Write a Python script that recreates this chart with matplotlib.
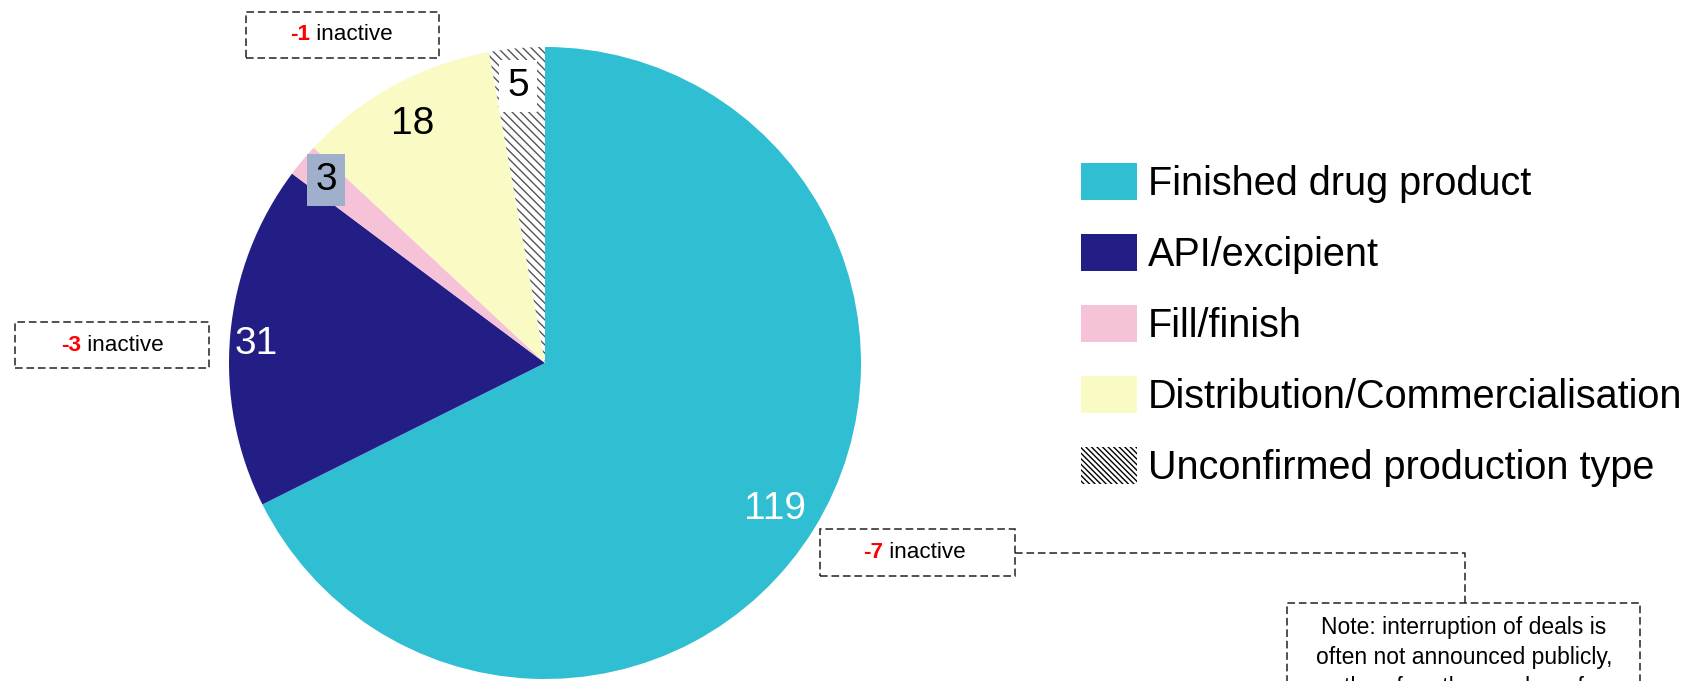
import matplotlib
matplotlib.use('Agg')
import matplotlib.pyplot as plt
from matplotlib.patches import Rectangle, Patch
from matplotlib.lines import Line2D
from matplotlib.text import Annotation

categories = ['Finished drug product', 'API/excipient', 'Fill/finish',
              'Distribution/Commercialisation', 'Unconfirmed production type']
values = [119, 31, 3, 18, 5]
colors = ['#2FBED2', '#221E86', '#F6C2D8', '#FAFAC5', '#FFFFFF']
inactive = ['-1', '-3', '-7']
note_lines = ['Note: interruption of deals is',
              'often not announced publicly,',
              'therefore the number of']

plt.rcParams['font.family'] = ['Liberation Sans', 'DejaVu Sans']
plt.rcParams['hatch.linewidth'] = 1.0

W, H = 1694, 681
fig = plt.figure(figsize=(W / 100, H / 100), dpi=100)

CX, CY, R = 545, 363, 316


def fx(x):
    return x / W


def fy(y):
    return 1 - y / H


ax = fig.add_axes([fx(CX - R), (H - CY - R) / H, 2 * R / W, 2 * R / H])
wedges, _ = ax.pie(values, colors=colors, startangle=90, counterclock=False,
                   radius=1, wedgeprops=dict(linewidth=0))
wedges[4].set_hatch('\\\\\\\\')
wedges[4].set_edgecolor('#555555')
wedges[4].set_linewidth(0)
ax.set_xlim(-1, 1)
ax.set_ylim(-1, 1)
ax.set_aspect('equal')
ax.axis('off')


def d(xp, yp):
    return ((xp - CX) / R, (CY - yp) / R)


# value labels
lab_pos = [(775, 509), (256, 344), (326, 180), (413, 124), (518, 86)]
lab_col = ['white', 'white', 'black', 'black', 'black']
for i, (v, p, c) in enumerate(zip(values, lab_pos, lab_col)):
    kw = {}
    if i == 2:
        kw['bbox'] = dict(boxstyle='square,pad=0.2', fc='#A0B0CC', ec='none')
    if i == 4:
        kw['bbox'] = dict(boxstyle='square,pad=0.2', fc='white', ec='none')
    ax.text(*d(*p), str(v), color=c, fontsize=28, ha='center', va='center', **kw)

# legend
handles = [Patch(facecolor=c, edgecolor='none', linewidth=0) for c in colors[:4]]
handles.append(Patch(facecolor='white', edgecolor='black', hatch='\\\\\\\\\\\\', linewidth=0))
fig.legend(handles=handles, labels=categories, loc='upper left',
           bbox_to_anchor=(fx(1081), fy(163)), frameon=False, fontsize=28.5,
           handlelength=1.41, handleheight=1.06, handletextpad=0.28,
           labelspacing=0.785, borderpad=0, borderaxespad=0)

DASH = (0, (5, 2.5))


def inactive_box(x0, y0, x1, y1, num, tx):
    fig.add_artist(Rectangle((fx(x0), fy(y1)), (x1 - x0) / W, (y1 - y0) / H,
                             transform=fig.transFigure, fill=False,
                             ec='#222222', lw=1.1, ls=DASH))
    cy = (y0 + y1) / 2
    t1 = fig.text(fx(tx), fy(cy), num, color='#FF0000', fontweight='bold',
                  fontsize=16.2, ha='left', va='center')
    fig.add_artist(Annotation(' inactive', xy=(1, 0), xycoords=t1,
                              ha='left', va='bottom', fontsize=16.2,
                              color='black', annotation_clip=False))


inactive_box(246, 12, 439, 58, inactive[0], 290)
inactive_box(15, 322, 209, 368, inactive[1], 61)
inactive_box(820, 529, 1015, 576, inactive[2], 863)

# connector
fig.add_artist(Line2D([fx(1015), fx(1465), fx(1465)], [fy(553), fy(553), fy(603)],
                      transform=fig.transFigure, color='#222222', lw=1.1, ls=DASH))

# note box
fig.add_artist(Rectangle((fx(1287), fy(740)), (1640 - 1287) / W, (740 - 603) / H,
                         transform=fig.transFigure, fill=False,
                         ec='#222222', lw=1.1, ls=DASH))
fig.text(fx(1464), fy(616), '\n'.join(note_lines), ha='center', va='top',
         fontsize=16.5, linespacing=1.4, color='black')

fig.savefig('out.png', dpi=100)
